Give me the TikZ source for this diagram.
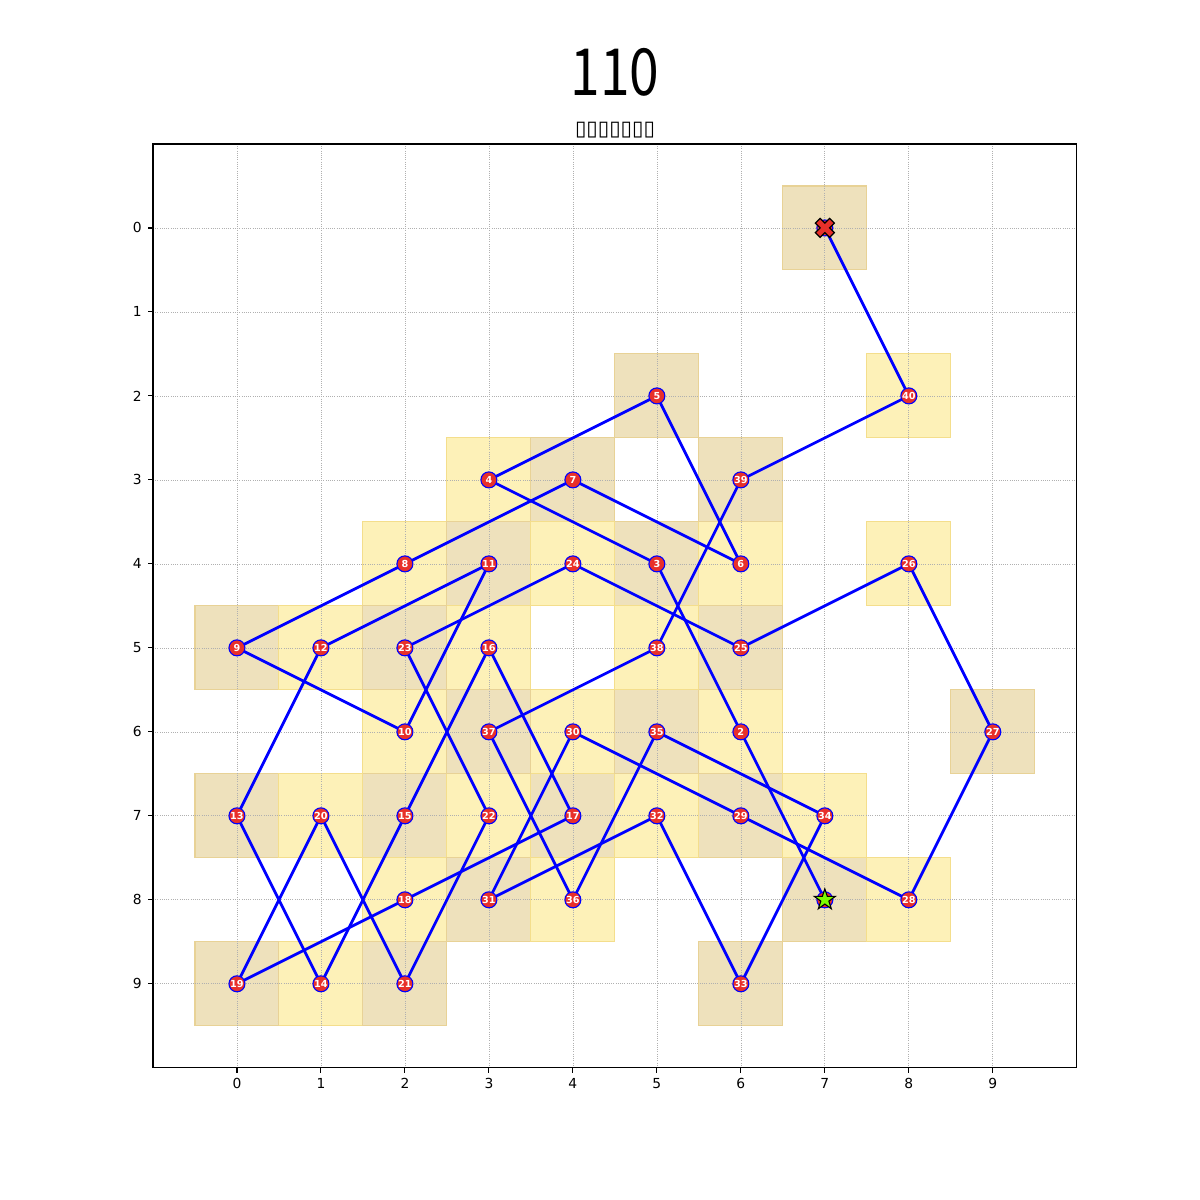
\documentclass[tikz,border=0pt]{standalone}
\usepackage{graphicx}
\usepackage{fontspec}
\setmainfont{DejaVu Sans}
\newfontfamily\titlefont{Noto Sans CJK SC}
\usetikzlibrary{shapes.geometric}
\definecolor{cellY}{HTML}{FDF1B8}
\definecolor{cellYedge}{HTML}{F4DE8C}
\definecolor{cellT}{HTML}{EEE1BC}
\definecolor{cellTedge}{HTML}{E8D296}
\definecolor{nodered}{HTML}{E8302A}
\definecolor{startgreen}{HTML}{7CFC00}
\definecolor{gridgray}{HTML}{B0B0B0}
\pgfdeclarelayer{back}
\pgfdeclarelayer{mid}
\pgfsetlayers{back,mid,main}
\tikzset{
  tournode/.style={circle, minimum size=0.4064cm, inner sep=0pt, fill=nodered, draw=blue, line width=0.8pt,
    text=white, font=\fontsize{7}{7}\selectfont\bfseries},
  tourline/.style={blue, line width=2pt},
  gridline/.style={gridgray, line width=0.5pt, dash pattern=on 0.6pt off 1pt},
  ylab/.style={anchor=east, font=\fontsize{10}{10}\selectfont, inner sep=0pt},
  xlab/.style={anchor=north, font=\fontsize{10}{10}\selectfont, inner sep=0pt},
}
\begin{document}
\begin{tikzpicture}[x=0.0254cm, y=-0.0254cm]
\useasboundingbox (0,0) rectangle (1200,1200);
\node[font=\titlefont\fontsize{47}{47}\selectfont] (title) at (615,72) {\scalebox{0.82}[1]{110}};
\node[font=\fontsize{15}{15}\selectfont] (subtitle) at (615,130) {▯▯▯▯▯▯▯};
\begin{scope}[shift={(6.0198cm,-5.7912cm)}, x=2.1336cm, y=-2.1336cm]
  % cells
  \begin{pgfonlayer}{back}
  \foreach \c/\r in {7/8,6/6,5/4,3/3,5/2,6/4,4/3,2/4,0/5,2/6,3/4,1/5,0/7,1/9,2/7,3/5,4/7,2/8,0/9,1/7,2/9,3/7,2/5,4/4,6/5,8/4,9/6,8/8,6/7,4/6,3/8,5/7,6/9,7/7,5/6,4/8,3/6,5/5,6/3,8/2,7/0} {
    \pgfmathtruncatemacro{\cpar}{mod(\c+\r,2)}
    \ifnum\cpar=0
      \filldraw[fill=cellY, draw=cellYedge, line width=0.8pt] (\c-0.5,\r-0.5) rectangle (\c+0.5,\r+0.5);
    \else
      \filldraw[fill=cellT, draw=cellTedge, line width=0.8pt] (\c-0.5,\r-0.5) rectangle (\c+0.5,\r+0.5);
    \fi
  }
  \foreach \k in {0,...,9} {
    \draw[gridline] (\k,-1) -- (\k,10);
    \draw[gridline] (-1,\k) -- (10,\k);
  }
  \end{pgfonlayer}
  % axes frame and ticks
  \draw[line width=0.8pt] (-1,-1) rectangle (10,10);
  \foreach \k in {0,...,9} {
    \draw[line width=0.8pt] (\k,10) -- (\k,10.058);
    \draw[line width=0.8pt] (-1,\k) -- (-1.058,\k);
    \node[xlab] (xt\k) at (\k,10.12) {\k};
    \node[ylab] (yt\k) at (-1.13,\k) {\k};
  }
  % tour nodes
  \foreach \i/\c/\r in {1/7/8,2/6/6,3/5/4,4/3/3,5/5/2,6/6/4,7/4/3,8/2/4,9/0/5,10/2/6,11/3/4,12/1/5,13/0/7,14/1/9,15/2/7,16/3/5,17/4/7,18/2/8,19/0/9,20/1/7,21/2/9,22/3/7,23/2/5,24/4/4,25/6/5,26/8/4,27/9/6,28/8/8,29/6/7,30/4/6,31/3/8,32/5/7,33/6/9,34/7/7,35/5/6,36/4/8,37/3/6,38/5/5,39/6/3,40/8/2,41/7/0} {
    \node[tournode] (n\i) at (\c,\r) {\i};
  }
  \begin{pgfonlayer}{mid}
  \foreach \a [evaluate=\a as \b using int(\a+1)] in {1,...,40} {
    \draw[tourline] (n\a.center) -- (n\b.center);
  }
  \end{pgfonlayer}
  % start star
  \node[star, star points=5, star point ratio=2.6, minimum size=0.56cm, inner sep=0pt, fill=startgreen, draw=black, line width=0.8pt] (startmark) at (n1) {};
  % end X marker
  \begin{scope}[shift={(n41.center)}, x=0.12065cm, y=0.12065cm]
    \filldraw[fill=nodered, draw=black, line width=0.9pt, line join=miter]
      (-1,-2) -- (0,-1) -- (1,-2) -- (2,-1) -- (1,0) -- (2,1) -- (1,2) -- (0,1) -- (-1,2) -- (-2,1) -- (-1,0) -- (-2,-1) -- cycle;
  \end{scope}
\end{scope}
\end{tikzpicture}
\end{document}
